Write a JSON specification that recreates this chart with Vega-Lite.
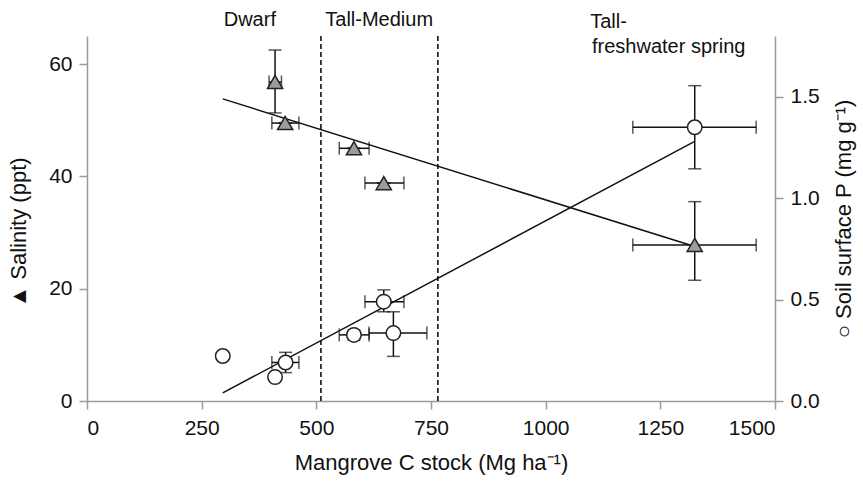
{
  "$schema": "https://vega.github.io/schema/vega-lite/v6.json",
  "autosize": "none",
  "width": 688,
  "height": 365,
  "padding": {"left": 87, "top": 36, "right": 88, "bottom": 81},
  "background": "white",
  "config": {
    "view": {"stroke": null},
    "font": "Liberation Sans",
    "axis": {
      "domainColor": "#9a9a9a",
      "domainWidth": 1.5,
      "tickColor": "#9a9a9a",
      "tickWidth": 1.5,
      "tickSize": 8,
      "labelColor": "#111",
      "labelFontSize": 21,
      "titleFontSize": 22,
      "titleFontWeight": "normal",
      "titleColor": "#111",
      "grid": false,
      "labelFont": "Liberation Sans",
      "titleFont": "Liberation Sans"
    }
  },
  "datasets": {
    "salinity": [
      {"c": 410, "clo": 397, "chi": 424, "s": 56.8, "slo": 51.3, "shi": 62.5},
      {"c": 432, "clo": 403, "chi": 462, "s": 49.5, "slo": 49.5, "shi": 49.5},
      {"c": 582, "clo": 550, "chi": 615, "s": 45.0, "slo": 45.0, "shi": 45.0},
      {"c": 647, "clo": 606, "chi": 691, "s": 38.8, "slo": 38.8, "shi": 38.8},
      {"c": 1325, "clo": 1190, "chi": 1459, "s": 27.8, "slo": 21.5, "shi": 35.5}
    ],
    "phosphorus": [
      {"c": 296, "clo": 290, "chi": 302, "p": 0.222, "plo": 0.21, "phi": 0.235},
      {"c": 410, "clo": 402, "chi": 418, "p": 0.118, "plo": 0.108, "phi": 0.128},
      {"c": 433, "clo": 403, "chi": 462, "p": 0.19, "plo": 0.14, "phi": 0.24},
      {"c": 582, "clo": 550, "chi": 615, "p": 0.326, "plo": 0.30, "phi": 0.35},
      {"c": 647, "clo": 606, "chi": 691, "p": 0.49, "plo": 0.44, "phi": 0.548},
      {"c": 668, "clo": 615, "chi": 741, "p": 0.335, "plo": 0.22, "phi": 0.44},
      {"c": 1325, "clo": 1190, "chi": 1459, "p": 1.35, "plo": 1.145, "phi": 1.555}
    ],
    "salfit": [{"c": 296, "s": 53.8}, {"c": 1325, "s": 27.5}],
    "pfit": [{"c": 296, "p": 0.04}, {"c": 1325, "p": 1.28}],
    "zones": [{"c": 510}, {"c": 765}],
    "labelsC": [
      {"c": 355, "s": 67.9, "t": "Dwarf"},
      {"c": 637, "s": 67.9, "t": "Tall-Medium"}
    ],
    "labelsL": [
      {"c": 1097, "s": 67.5, "t": "Tall-"},
      {"c": 1101, "s": 63.0, "t": "freshwater spring"}
    ]
  },
  "layer": [
    {
      "layer": [
        {
          "data": {"name": "zones"},
          "mark": {"type": "rule", "strokeDash": [5, 3], "strokeWidth": 1.6, "color": "#111"},
          "encoding": {
            "x": {"field": "c", "type": "quantitative", "title": "Mangrove C stock (Mg ha⁻¹)", "scale": {"domain": [0, 1500], "nice": false}, "axis": {"values": [0, 250, 500, 750, 1000, 1250, 1500], "format": "d", "labelPadding": 8, "titlePadding": 14}}
          }
        },
        {
          "data": {"name": "labelsC"},
          "mark": {"type": "text", "fontSize": 20, "baseline": "middle", "align": "center", "color": "#111", "font": "Liberation Sans"},
          "encoding": {
            "x": {"field": "c", "type": "quantitative", "title": "Mangrove C stock (Mg ha⁻¹)"},
            "y": {"field": "s", "type": "quantitative", "title": "▲    Salinity  (ppt)"},
            "text": {"field": "t"}
          }
        },
        {
          "data": {"name": "labelsL"},
          "mark": {"type": "text", "fontSize": 20, "baseline": "middle", "align": "left", "color": "#111", "font": "Liberation Sans"},
          "encoding": {
            "x": {"field": "c", "type": "quantitative", "title": "Mangrove C stock (Mg ha⁻¹)"},
            "y": {"field": "s", "type": "quantitative", "title": "▲    Salinity  (ppt)"},
            "text": {"field": "t"}
          }
        },
        {
          "data": {"name": "salfit"},
          "mark": {"type": "line", "color": "#111", "strokeWidth": 1.5},
          "encoding": {
            "x": {"field": "c", "type": "quantitative", "title": "Mangrove C stock (Mg ha⁻¹)"},
            "y": {"field": "s", "type": "quantitative", "title": "▲    Salinity  (ppt)", "scale": {"domain": [0, 65], "nice": false}, "axis": {"orient": "left", "values": [0, 20, 40, 60], "labelPadding": 7, "titlePadding": 18, "titleY": 196}}
          }
        },
        {
          "data": {"name": "salinity"},
          "mark": {"type": "rule", "color": "#111", "strokeWidth": 1.5},
          "encoding": {
            "x": {"field": "clo", "type": "quantitative", "title": "Mangrove C stock (Mg ha⁻¹)"},
            "x2": {"field": "chi", "title": "Mangrove C stock (Mg ha⁻¹)"},
            "y": {"field": "s", "type": "quantitative", "title": "▲    Salinity  (ppt)"}
          }
        },
        {
          "data": {"name": "salinity"},
          "mark": {"type": "rule", "color": "#111", "strokeWidth": 1.5},
          "encoding": {
            "x": {"field": "c", "type": "quantitative", "title": "Mangrove C stock (Mg ha⁻¹)"},
            "y": {"field": "slo", "type": "quantitative", "title": "▲    Salinity  (ppt)"},
            "y2": {"field": "shi", "title": "▲    Salinity  (ppt)"}
          }
        },
        {
          "data": {"name": "salinity"},
          "mark": {"type": "tick", "orient": "vertical", "color": "#111", "thickness": 1.5, "size": 13},
          "encoding": {
            "x": {"field": "clo", "type": "quantitative", "title": "Mangrove C stock (Mg ha⁻¹)"},
            "y": {"field": "s", "type": "quantitative", "title": "▲    Salinity  (ppt)"}
          }
        },
        {
          "data": {"name": "salinity"},
          "mark": {"type": "tick", "orient": "vertical", "color": "#111", "thickness": 1.5, "size": 13},
          "encoding": {
            "x": {"field": "chi", "type": "quantitative", "title": "Mangrove C stock (Mg ha⁻¹)"},
            "y": {"field": "s", "type": "quantitative", "title": "▲    Salinity  (ppt)"}
          }
        },
        {
          "data": {"name": "salinity"},
          "mark": {"type": "tick", "orient": "horizontal", "color": "#111", "thickness": 1.5, "size": 13},
          "encoding": {
            "x": {"field": "c", "type": "quantitative", "title": "Mangrove C stock (Mg ha⁻¹)"},
            "y": {"field": "slo", "type": "quantitative", "title": "▲    Salinity  (ppt)"}
          }
        },
        {
          "data": {"name": "salinity"},
          "mark": {"type": "tick", "orient": "horizontal", "color": "#111", "thickness": 1.5, "size": 13},
          "encoding": {
            "x": {"field": "c", "type": "quantitative", "title": "Mangrove C stock (Mg ha⁻¹)"},
            "y": {"field": "shi", "type": "quantitative", "title": "▲    Salinity  (ppt)"}
          }
        },
        {
          "data": {"name": "salinity"},
          "mark": {"type": "point", "shape": "triangle-up", "filled": true, "fill": "#9c9c9c", "stroke": "#222", "strokeWidth": 1.5, "size": 230, "opacity": 1},
          "encoding": {
            "x": {"field": "c", "type": "quantitative", "title": "Mangrove C stock (Mg ha⁻¹)"},
            "y": {"field": "s", "type": "quantitative", "title": "▲    Salinity  (ppt)"}
          }
        }
      ]
    },
    {
      "layer": [
        {
          "data": {"name": "pfit"},
          "mark": {"type": "line", "color": "#111", "strokeWidth": 1.5},
          "encoding": {
            "x": {"field": "c", "type": "quantitative", "title": "Mangrove C stock (Mg ha⁻¹)"},
            "y": {"field": "p", "type": "quantitative", "title": "○ Soil surface P (mg g⁻¹)", "scale": {"domain": [0, 1.8], "nice": false}, "axis": {"orient": "right", "titleAngle": 270, "titleBaseline": "top", "values": [0, 0.5, 1, 1.5], "format": ".1f", "labelPadding": 7, "titlePadding": 14}}
          }
        },
        {
          "data": {"name": "phosphorus"},
          "mark": {"type": "rule", "color": "#111", "strokeWidth": 1.5},
          "encoding": {
            "x": {"field": "clo", "type": "quantitative", "title": "Mangrove C stock (Mg ha⁻¹)"},
            "x2": {"field": "chi", "title": "Mangrove C stock (Mg ha⁻¹)"},
            "y": {"field": "p", "type": "quantitative", "title": "○ Soil surface P (mg g⁻¹)"}
          }
        },
        {
          "data": {"name": "phosphorus"},
          "mark": {"type": "rule", "color": "#111", "strokeWidth": 1.5},
          "encoding": {
            "x": {"field": "c", "type": "quantitative", "title": "Mangrove C stock (Mg ha⁻¹)"},
            "y": {"field": "plo", "type": "quantitative", "title": "○ Soil surface P (mg g⁻¹)"},
            "y2": {"field": "phi", "title": "○ Soil surface P (mg g⁻¹)"}
          }
        },
        {
          "data": {"name": "phosphorus"},
          "mark": {"type": "tick", "orient": "vertical", "color": "#111", "thickness": 1.5, "size": 13},
          "encoding": {
            "x": {"field": "clo", "type": "quantitative", "title": "Mangrove C stock (Mg ha⁻¹)"},
            "y": {"field": "p", "type": "quantitative", "title": "○ Soil surface P (mg g⁻¹)"}
          }
        },
        {
          "data": {"name": "phosphorus"},
          "mark": {"type": "tick", "orient": "vertical", "color": "#111", "thickness": 1.5, "size": 13},
          "encoding": {
            "x": {"field": "chi", "type": "quantitative", "title": "Mangrove C stock (Mg ha⁻¹)"},
            "y": {"field": "p", "type": "quantitative", "title": "○ Soil surface P (mg g⁻¹)"}
          }
        },
        {
          "data": {"name": "phosphorus"},
          "mark": {"type": "tick", "orient": "horizontal", "color": "#111", "thickness": 1.5, "size": 13},
          "encoding": {
            "x": {"field": "c", "type": "quantitative", "title": "Mangrove C stock (Mg ha⁻¹)"},
            "y": {"field": "plo", "type": "quantitative", "title": "○ Soil surface P (mg g⁻¹)"}
          }
        },
        {
          "data": {"name": "phosphorus"},
          "mark": {"type": "tick", "orient": "horizontal", "color": "#111", "thickness": 1.5, "size": 13},
          "encoding": {
            "x": {"field": "c", "type": "quantitative", "title": "Mangrove C stock (Mg ha⁻¹)"},
            "y": {"field": "phi", "type": "quantitative", "title": "○ Soil surface P (mg g⁻¹)"}
          }
        },
        {
          "data": {"name": "phosphorus"},
          "mark": {"type": "point", "shape": "circle", "filled": true, "fill": "white", "stroke": "#222", "strokeWidth": 1.5, "size": 210, "opacity": 1},
          "encoding": {
            "x": {"field": "c", "type": "quantitative", "title": "Mangrove C stock (Mg ha⁻¹)"},
            "y": {"field": "p", "type": "quantitative", "title": "○ Soil surface P (mg g⁻¹)"}
          }
        }
      ]
    }
  ],
  "resolve": {"scale": {"y": "independent"}}
}
